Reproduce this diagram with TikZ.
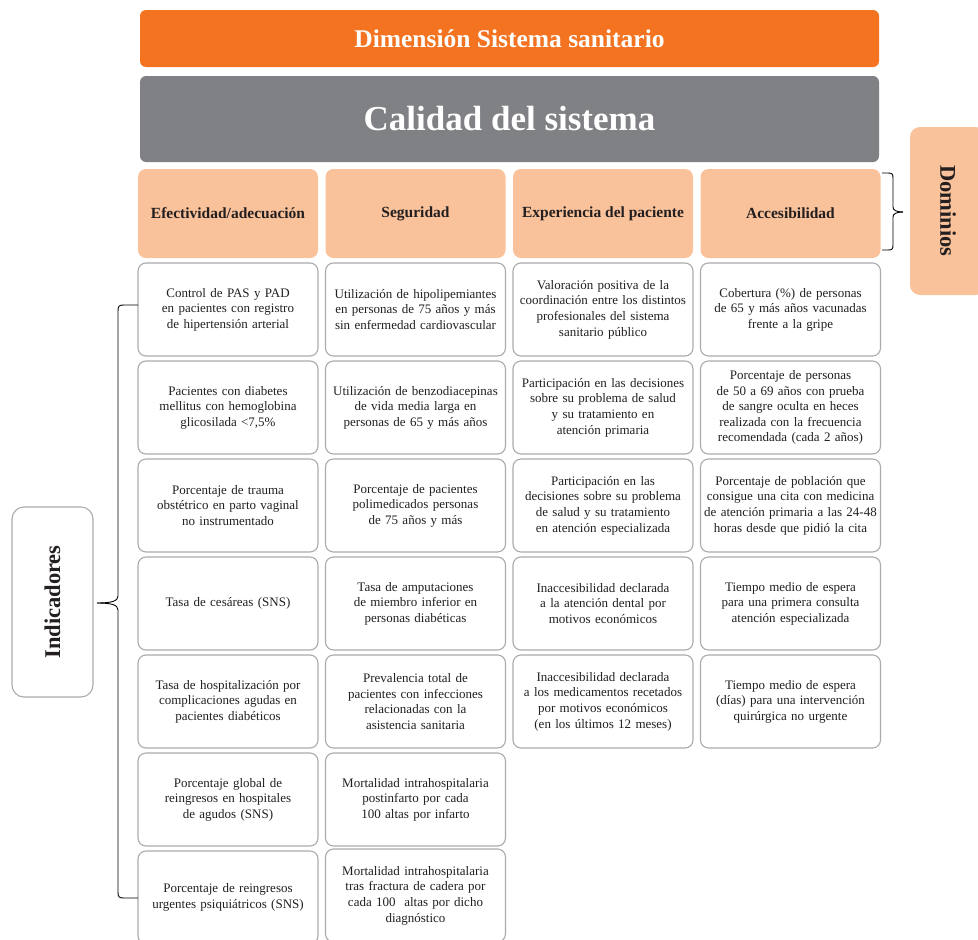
\documentclass[tikz,border=0pt]{standalone}
\usepackage{fontspec}
\setmainfont{Liberation Serif}
\definecolor{hdrorange}{HTML}{F37321}
\definecolor{hdrgrey}{HTML}{808184}
\definecolor{domfill}{HTML}{FAC29A}
\definecolor{cellborder}{HTML}{ABABAB}
\definecolor{txtdark}{HTML}{231F20}
\begin{document}
\begin{tikzpicture}[x=1pt,y=-1pt,
  cellbox/.style={draw=cellborder, line width=1.1pt, fill=white, rounded corners=8pt,
    minimum width=180pt, minimum height=93pt, inner sep=0pt, text width=180pt, align=center,
    text=txtdark, font=\fontsize{13}{15.6}\selectfont},
  dombox/.style={fill=domfill, rounded corners=8pt, minimum width=180pt, minimum height=89pt,
    inner sep=0pt, text=txtdark, font=\fontsize{15.5}{17}\selectfont\bfseries},
  bracepath/.style={draw=black, line width=0.9pt}
]
\useasboundingbox (0,0) rectangle (978,940);

% headers
\node[fill=hdrorange, rounded corners=6pt, minimum width=739pt, minimum height=57pt, inner sep=0pt,
  text=white, font=\fontsize{25.5}{28}\selectfont\bfseries] (dim) at (509.5,38.5) {Dimensión Sistema sanitario};
\node[fill=hdrgrey, rounded corners=6pt, minimum width=739pt, minimum height=86pt, inner sep=0pt,
  text=white, font=\fontsize{35}{38}\selectfont\bfseries] (cal) at (509.5,119) {Calidad del sistema};

% domains
\node[dombox] (d1) at (228,213.5) {Efectividad/adecuación};
\node[dombox] (d2) at (415.5,213.5) {Seguridad};
\node[dombox] (d3) at (603,213.5) {Experiencia del paciente};
\node[dombox] (d4) at (790.5,213.5) {Accesibilidad};

% column 1
\node[cellbox] (c11) at (228,309.5) {Control de PAS y PAD\\en pacientes con registro\\de hipertensión arterial};
\node[cellbox] (c12) at (228,407.5) {Pacientes con diabetes\\mellitus con hemoglobina\\glicosilada <7,5\%};
\node[cellbox] (c13) at (228,505.5) {Porcentaje de trauma\\obstétrico en parto vaginal\\no instrumentado};
\node[cellbox] (c14) at (228,603.5) {Tasa de cesáreas (SNS)};
\node[cellbox] (c15) at (228,701.5) {Tasa de hospitalización por\\complicaciones agudas en\\pacientes diabéticos};
\node[cellbox] (c16) at (228,799.5) {Porcentaje global de\\reingresos en hospitales\\de agudos (SNS)};
\node[cellbox] (c17) at (228,897.5) {Porcentaje de reingresos\\urgentes psiquiátricos (SNS)};

% column 2
\node[cellbox] (c21) at (415.5,309.5) {Utilización de hipolipemiantes\\en personas de 75 años y más\\sin enfermedad cardiovascular};
\node[cellbox] (c22) at (415.5,407.5) {Utilización de benzodiacepinas\\de vida media larga en\\personas de 65 y más años};
\node[cellbox] (c23) at (415.5,505.5) {Porcentaje de pacientes\\polimedicados personas\\de 75 años y más};
\node[cellbox] (c24) at (415.5,603.5) {Tasa de amputaciones\\de miembro inferior en\\personas diabéticas};
\node[cellbox] (c25) at (415.5,701.5) {Prevalencia total de\\pacientes con infecciones\\relacionadas con la\\asistencia sanitaria};
\node[cellbox] (c26) at (415.5,799.5) {Mortalidad intrahospitalaria\\postinfarto por cada\\100 altas por infarto};
\node[cellbox] (c27) at (415.5,895.5) {Mortalidad intrahospitalaria\\tras fractura de cadera por\\cada 100~ altas por dicho\\diagnóstico};

% column 3
\node[cellbox] (c31) at (603,309.5) {Valoración positiva de la\\coordinación entre los distintos\\profesionales del sistema\\sanitario público};
\node[cellbox] (c32) at (603,407.5) {Participación en las decisiones\\sobre su problema de salud\\y su tratamiento en\\atención primaria};
\node[cellbox] (c33) at (603,505.5) {Participación en las\\decisiones sobre su problema\\de salud y su tratamiento\\en atención especializada};
\node[cellbox] (c34) at (603,603.5) {Inaccesibilidad declarada\\a la atención dental por\\motivos económicos};
\node[cellbox] (c35) at (603,701.5) {Inaccesibilidad declarada\\a los medicamentos recetados\\por motivos económicos\\(en los últimos 12 meses)};

% column 4
\node[cellbox] (c41) at (790.5,309.5) {Cobertura (\%) de personas\\de 65 y más años vacunadas\\frente a la gripe};
\node[cellbox] (c42) at (790.5,407.5) {Porcentaje de personas\\de 50 a 69 años con prueba\\de sangre oculta en heces\\realizada con la frecuencia\\recomendada (cada 2 años)};
\node[cellbox] (c43) at (790.5,505.5) {Porcentaje de población que\\consigue una cita con medicina\\de atención primaria a las 24-48\\horas desde que pidió la cita};
\node[cellbox] (c44) at (790.5,603.5) {Tiempo medio de espera\\para una primera consulta\\atención especializada};
\node[cellbox] (c45) at (790.5,701.5) {Tiempo medio de espera\\(días) para una intervención\\quirúrgica no urgente};

% side labels
\node[draw=cellborder, line width=1.1pt, fill=white, rounded corners=12pt, minimum width=81pt,
  minimum height=190pt, inner sep=0pt] (ind) at (52.5,602) {};
\node[rotate=90, text=txtdark, font=\fontsize{22.5}{24}\selectfont\bfseries] (indt) at (ind.center) {Indicadores};
\node[fill=domfill, rounded corners=10pt, minimum width=76pt, minimum height=168pt, inner sep=0pt] (dom) at (948,211) {};
\node[rotate=-90, text=txtdark, font=\fontsize{22.5}{24}\selectfont\bfseries] (domt) at (dom.center) {Dominios};

% left brace
\coordinate (lbt) at (138,305);
\coordinate (lbb) at (138,898);
\coordinate (lbtip) at (97,603);
\draw[bracepath] (lbt) -- (124,305) .. controls (119,305) and (118,306) .. (118,311)
  -- (118,596) .. controls (118,601) and (112,603) .. (lbtip);
\draw[bracepath] (lbb) -- (124,898) .. controls (119,898) and (118,897) .. (118,892)
  -- (118,610) .. controls (118,605) and (112,603) .. (lbtip);

% right brace
\coordinate (rbt) at (882,173);
\coordinate (rbb) at (882,250);
\coordinate (rbtip) at (903,212);
\draw[bracepath] (rbt) -- (888,173) .. controls (892,173) and (893,174) .. (893,178)
  -- (893,207) .. controls (893,210) and (896,212) .. (rbtip);
\draw[bracepath] (rbb) -- (888,250) .. controls (892,250) and (893,249) .. (893,245)
  -- (893,217) .. controls (893,214) and (896,212) .. (rbtip);
\end{tikzpicture}
\end{document}
